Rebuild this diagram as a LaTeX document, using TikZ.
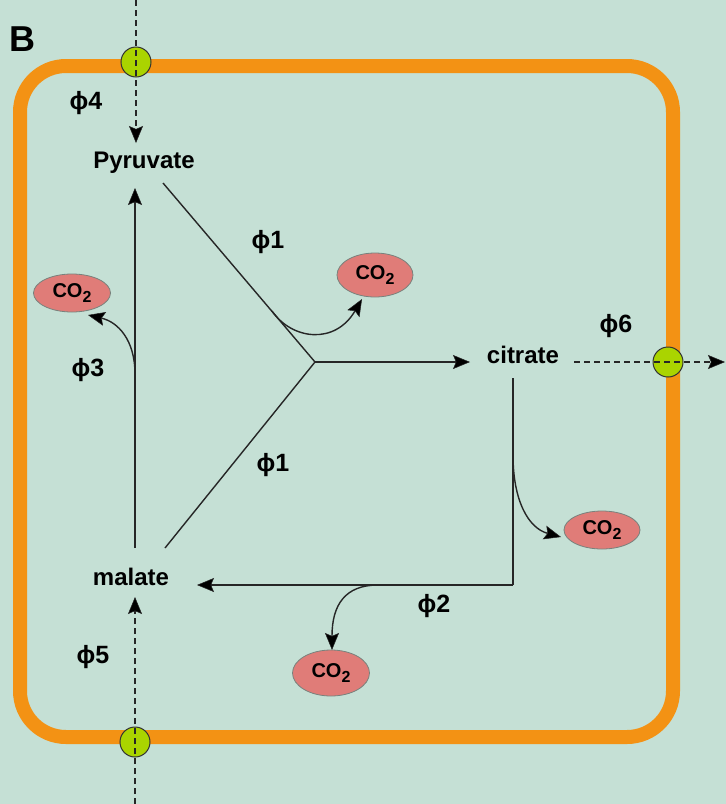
\documentclass[tikz,border=0pt]{standalone}
\usepackage{fontspec}
\setmainfont{Liberation Sans}
\usetikzlibrary{arrows.meta,shapes.geometric}
\definecolor{bgc}{RGB}{197,224,213}
\definecolor{orangec}{RGB}{243,146,20}
\definecolor{greenc}{RGB}{170,212,0}
\definecolor{co2c}{RGB}{224,124,120}
\definecolor{co2b}{RGB}{120,130,125}
\newcommand{\cotwo}{CO\raisebox{-0.28em}{\fontsize{16}{16}\selectfont 2}}
\begin{document}
\begin{tikzpicture}[x=1pt,y=-1pt,
  membrane/.style={draw=orangec,line width=14pt,rounded corners=46pt},
  porter/.style={circle,draw=black!80,line width=1pt,fill=greenc,minimum size=30pt,inner sep=0pt},
  metab/.style={font=\bfseries\fontsize{24}{24}\selectfont,inner sep=0pt},
  flux/.style={font=\bfseries\fontsize{25}{25}\selectfont,inner sep=0pt},
  co2/.style={ellipse,draw=co2b,line width=0.8pt,fill=co2c,inner sep=0pt,font=\bfseries\fontsize{20}{20}\selectfont},
  conn/.style={draw=black!85,line width=1.4pt},
  arrowtip/.style={-{Stealth[length=17pt,width=14pt,inset=3pt,fill=black,line width=0.5pt]}},
  arr/.style={conn,arrowtip},
  dashline/.style={conn,dash pattern=on 6pt off 4pt}
]
\fill[bgc] (0,0) rectangle (726,804);
\useasboundingbox (0,0) rectangle (726,804);

% membrane
\draw[membrane] (20,66) rectangle (673,737);

% transporters
\node[porter] (p4) at (136,62) {};
\node[porter] (p6) at (668,362) {};
\node[porter] (p5) at (135,742) {};

% metabolites
\node[metab] (pyr) at (144,163) {Pyruvate};
\node[metab] (cit) at (523,355) {citrate};
\node[metab] (mal) at (131,577) {malate};

% CO2
\node[co2,minimum width=76pt,minimum height=44pt] (c1) at (375,275) {\cotwo};
\node[co2,minimum width=77pt,minimum height=38pt] (c3) at (72,293) {\cotwo};
\node[co2,minimum width=76pt,minimum height=38pt] (c2a) at (602,530) {\cotwo};
\node[co2,minimum width=77pt,minimum height=46pt] (c2b) at (331,673) {\cotwo};

% flux labels
\node[font=\bfseries\fontsize{36}{36}\selectfont,inner sep=0pt] (B) at (22,39) {B};
\node[flux] (f4) at (86,103) {ϕ4};
\node[flux] (f1a) at (268,242) {ϕ1};
\node[flux] (f1b) at (273,465) {ϕ1};
\node[flux] (f3) at (88,370) {ϕ3};
\node[flux] (f6) at (616,326) {ϕ6};
\node[flux] (f2) at (434,606) {ϕ2};
\node[flux] (f5) at (93,657) {ϕ5};

% coordinates
\coordinate (topin) at (136,0);
\coordinate (pyrin) at (136,143);
\coordinate (citout) at (574,362);
\coordinate (rightout) at (725,362);
\coordinate (botin) at (135,804);
\coordinate (malin) at (135,597);
\coordinate (malup) at (135,548);
\coordinate (pyrdown) at (135,188);
\coordinate (pyrse) at (163,183);
\coordinate (malne) at (165,548);
\coordinate (junc) at (315,362);
\coordinate (citin) at (470,362);
\coordinate (citdown) at (513,378);
\coordinate (corner) at (513,585);
\coordinate (malright) at (197,585);
\coordinate (b1) at (272,311);
\coordinate (b3) at (135,374);
\coordinate (b2a) at (513,455);
\coordinate (b2b) at (378,585);
\coordinate (t1) at (362,299);
\coordinate (t3) at (88,315);
\coordinate (t2a) at (561,537);
\coordinate (t2b) at (332,650);

% transport (dashed)
\draw[dashline,arrowtip] (topin) -- (pyrin);
\draw[dashline,arrowtip] (citout) -- (rightout);
\draw[dashline,arrowtip] (botin) -- (malin);

% pathway
\draw[arr] (malup) -- (pyrdown);
\draw[conn] (pyrse) -- (junc) -- (malne);
\draw[arr] (junc) -- (citin);
\draw[conn] (citdown) -- (corner);
\draw[arr] (corner) -- (malright);

% decarboxylations
\draw[arr] (b1) .. controls (292,340) and (335,345) .. (t1);
\draw[arr] (b3) .. controls (135,340) and (118,322) .. (t3);
\draw[arr] (b2a) .. controls (513,500) and (528,528) .. (t2a);
\draw[arr] (b2b) .. controls (345,585) and (332,605) .. (t2b);
\end{tikzpicture}
\end{document}
